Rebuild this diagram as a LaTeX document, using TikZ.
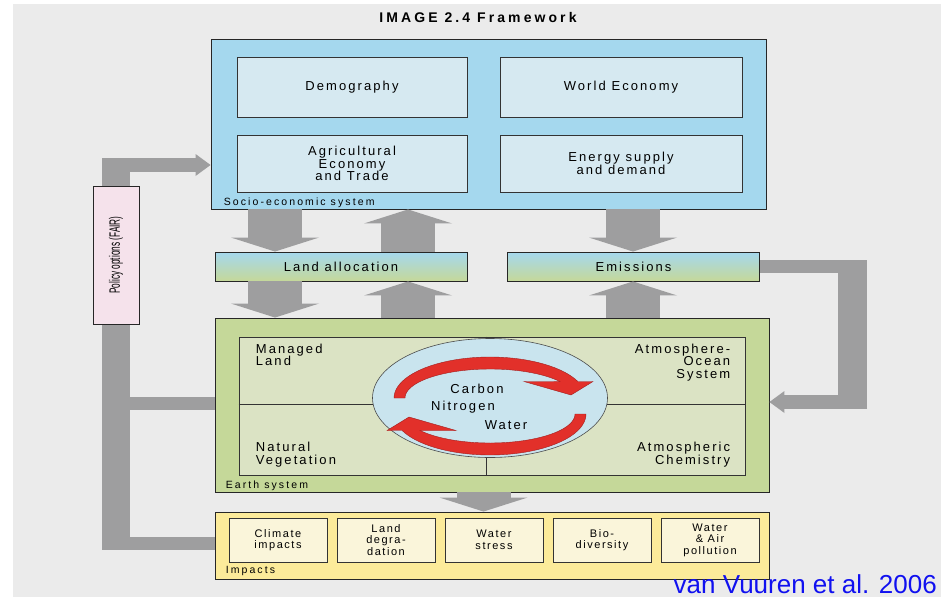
\documentclass[tikz,border=0pt]{standalone}
\usepackage{fontspec}
\usepackage{graphicx}
\setmainfont{Liberation Sans}
\newfontfamily\boxfont[LetterSpace=16]{Liberation Sans}
\newfontfamily\smallfont[LetterSpace=14]{Liberation Sans}
\newfontfamily\tagfont[LetterSpace=20]{Liberation Sans}
\newfontfamily\headfont[LetterSpace=22]{Liberation Sans}
\usetikzlibrary{arrows.meta,shapes.geometric}

\definecolor{bggray}{HTML}{EBEBEB}
\definecolor{flowgray}{HTML}{9E9E9F}
\definecolor{socioblue}{HTML}{A5D8EE}
\definecolor{sociopale}{HTML}{D6E9F1}
\definecolor{earthgreen}{HTML}{C5D899}
\definecolor{earthpale}{HTML}{DBE3C4}
\definecolor{impyellow}{HTML}{FCEB9A}
\definecolor{imppale}{HTML}{FAF5DA}
\definecolor{policypink}{HTML}{F5E2EB}
\definecolor{cycleblue}{HTML}{C9E4EE}
\definecolor{cyclered}{HTML}{E2302A}
\definecolor{cycledark}{HTML}{A11E1E}
\definecolor{citeblue}{HTML}{1010F0}

\tikzset{
	sysbox/.style={draw=black!85, line width=0.9pt, inner sep=0pt},
	subbox/.style={draw=black!80, line width=0.7pt, inner sep=0pt, align=center,
		font=\boxfont\fontsize{13}{12.5}\selectfont},
	impbox/.style={subbox, fill=imppale, minimum width=98pt, minimum height=44pt,
		font=\smallfont\fontsize{11}{11.5}\selectfont},
	linkbox/.style={sysbox, top color=socioblue, bottom color=earthgreen,
		minimum width=252pt, minimum height=29pt, font=\boxfont\fontsize{13}{13}\selectfont},
	tagtext/.style={inner sep=0pt, anchor=west, font=\tagfont\fontsize{10.5}{10.5}\selectfont},
	paneltext/.style={inner sep=0pt, font=\boxfont\fontsize{13}{12.5}\selectfont},
	flow/.style={draw=flowgray, line width=54pt,
		-{Triangle[width=88pt,length=14pt,line width=0pt]}},
	feed/.style={draw=flowgray, line width=14pt},
	feedtip/.style={feed, -{Triangle[width=22pt,length=15pt,line width=0pt]}},
	redarc/.style={fill=cyclered, draw=cycledark, line width=0.4pt}
}

\begin{document}
\begin{tikzpicture}[x=1pt, y=-1pt]
	\useasboundingbox (0,0) rectangle (941,597);
	\fill[bggray] (13,4) rectangle (941,597);

	\node[font=\headfont\bfseries\fontsize{14}{14}\selectfont, inner sep=0pt] (title) at (478,17) {IMAGE 2.4 Framework};

	\node[sysbox, fill=socioblue, minimum width=555pt, minimum height=170pt] (socio) at (488.5,124) {};
	\node[subbox, fill=sociopale, minimum width=230pt, minimum height=60pt] (demo) at (352,87) {Demography};
	\node[subbox, fill=sociopale, minimum width=242pt, minimum height=60pt] (world) at (621,87) {World Economy};
	\node[subbox, fill=sociopale, minimum width=230pt, minimum height=57pt] (agri) at (352,163.5) {Agricultural\\Economy\\and Trade};
	\node[subbox, fill=sociopale, minimum width=242pt, minimum height=57pt] (energy) at (621,163.5) {Energy supply\\and demand};
	\node[tagtext] (sociotag) at ([shift={(13,-7)}]socio.south west) {Socio-economic system};

	\node[linkbox] (land) at (341,266.5) {Land allocation};
	\node[linkbox] (emis) at (633.5,266.5) {Emissions};

	\node[sysbox, fill=earthgreen, minimum width=554pt, minimum height=174pt] (earth) at (492,405) {};
	\node[draw=black!80, line width=0.7pt, fill=earthpale, minimum width=506pt, minimum height=138pt, inner sep=0pt] (panel) at (492,406) {};
	\coordinate (crossx) at (486,404);
	\draw[black!80, line width=0.7pt] (panel.north -| crossx) -- (panel.south -| crossx);
	\draw[black!80, line width=0.7pt] (panel.west |- crossx) -- (panel.east |- crossx);
	\node[ellipse, draw=black!70, line width=0.6pt, fill=cycleblue, minimum width=235pt, minimum height=119pt, inner sep=0pt] (biocycle) at (490,398) {};

	\begin{scope}[shift={(490,398)}, yscale=-1]
		\path[redarc] plot[domain=180:23.7, samples=40] ({96*cos(\x)},{41*sin(\x)}) -- (103,16.5) -- (81,3) -- (34,16.5)
			-- plot[domain=34.7:180, samples=40] ({85*cos(\x)},{29*sin(\x)}) -- cycle;
	\end{scope}
	\begin{scope}[shift={(490,414)}, yscale=-1, rotate=180]
		\path[redarc] plot[domain=180:23.7, samples=40] ({96*cos(\x)},{41*sin(\x)}) -- (103,16.5) -- (81,3) -- (34,16.5)
			-- plot[domain=34.7:180, samples=40] ({85*cos(\x)},{29*sin(\x)}) -- cycle;
	\end{scope}

	\node[paneltext] (carbon) at (477,389) {Carbon};
	\node[paneltext] (nitrogen) at (463,407) {Nitrogen};
	\node[paneltext] (water) at (506,425) {Water};

	\node[paneltext, anchor=north west, align=left] (managed) at ([shift={(17,7)}]panel.north west) {Managed\\Land};
	\node[paneltext, anchor=north east, align=right] (ocean) at ([shift={(-15,7)}]panel.north east) {Atmosphere-\\Ocean\\System};
	\node[paneltext, anchor=south west, align=left] (natural) at ([shift={(17,-8)}]panel.south west) {Natural\\Vegetation};
	\node[paneltext, anchor=south east, align=right] (chem) at ([shift={(-15,-8)}]panel.south east) {Atmospheric\\Chemistry};
	\node[tagtext] (earthtag) at ([shift={(11,-7)}]earth.south west) {Earth system};

	\node[sysbox, fill=impyellow, minimum width=554pt, minimum height=67pt] (impacts) at (492,545.5) {};
	\foreach \i/\txt in {0/{Climate\\impacts}, 1/{Land\\degra-\\dation}, 2/{Water\\stress}, 3/{Bio-\\diversity}, 4/{Water\\\& Air\\pollution}}
		\node[impbox] (imp\i) at (278+108*\i,540) {\txt};
	\node[tagtext] (imptag) at ([shift={(11,-8)}]impacts.south west) {Impacts};

	\coordinate (colA) at (275,0);
	\coordinate (colB) at (408,0);
	\coordinate (colC) at (633,0);
	\coordinate (colD) at (483.5,0);
	\draw[flow] (socio.south -| colA) -- (land.north -| colA);
	\draw[flow] (land.north -| colB) -- (socio.south -| colB);
	\draw[flow] (socio.south -| colC) -- (emis.north -| colC);
	\draw[flow] (land.south -| colA) -- (earth.north -| colA);
	\draw[flow] (earth.north -| colB) -- (land.south -| colB);
	\draw[flow] (earth.north -| colC) -- (emis.south -| colC);
	\draw[flow] (earth.south -| colD) -- (impacts.north -| colD);

	\coordinate (rout) at (867,266.5);
	\coordinate (rtop) at (852.5,260);
	\coordinate (rbot) at (852.5,409);
	\coordinate (rin) at (867,402);
	\draw[feed, line width=13.5pt] (emis.east) -- (emis.east -| rout);
	\draw[feed, line width=29pt] (rtop) -- (rbot);
	\draw[feedtip] (rin) -- (rin -| earth.east);

	\coordinate (ptop) at (116,158);
	\coordinate (pbot) at (116,550);
	\coordinate (pnw) at (102,165);
	\coordinate (pmid) at (130,403.5);
	\coordinate (plow) at (102,543.5);
	\draw[feed, line width=28pt] (ptop) -- (pbot);
	\draw[feedtip] (pnw) -- (pnw -| socio.west);
	\draw[feed, line width=13pt] (pmid) -- (pmid -| earth.west);
	\draw[feed, line width=13pt] (plow) -- (plow -| impacts.west);
	\node[sysbox, fill=policypink, minimum width=46pt, minimum height=138pt] (fair) at (116,255)
		{\rotatebox{90}{\scalebox{0.55}[1]{\fontsize{15}{15}\selectfont Policy options (FAIR)}}};

	\node[anchor=base east, inner sep=0pt, text=citeblue, font=\fontsize{26}{26}\selectfont] (cite) at (937,593) {van Vuuren et al. 2006};
\end{tikzpicture}
\end{document}
